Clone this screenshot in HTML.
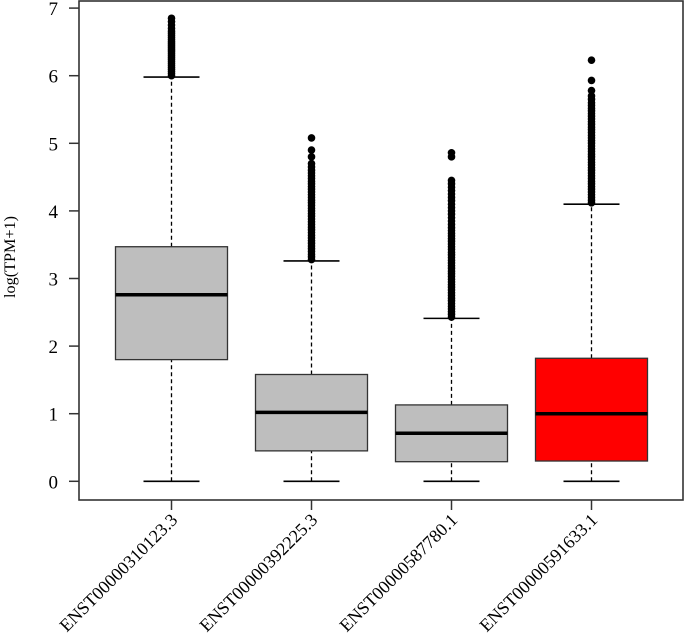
<!DOCTYPE html>
<html><head><meta charset="utf-8"><style>
html,body{margin:0;padding:0;background:#fff;}
svg{display:block;font-family:"Liberation Serif","Times New Roman",serif;}
</style></head><body>
<svg id="chart" width="685" height="639" viewBox="0 0 685 639"></svg>
<script>
const categories = ["ENST00000310123.3","ENST00000392225.3","ENST00000587780.1","ENST00000591633.1"];
const lowerWhisker = [0,0,0,0];
const q1 = [1.80,0.45,0.29,0.30];
const medians = [2.76,1.02,0.71,1.00];
const q3 = [3.47,1.58,1.13,1.82];
const upperWhisker = [5.98,3.26,2.41,4.10];
const boxColors = ["#bebebe","#bebebe","#bebebe","#ff0000"];
const outliers1 = [6.0,6.03,6.06,6.09,6.12,6.15,6.18,6.21,6.24,6.27,6.3,6.33,6.36,6.39,6.42,6.45,6.48,6.51,6.54,6.57,6.6,6.63,6.66,6.7,6.75,6.8,6.85];
const outliers2 = [3.28,3.32,3.36,3.4,3.44,3.48,3.52,3.56,3.6,3.64,3.68,3.72,3.76,3.8,3.84,3.88,3.92,3.96,4.0,4.04,4.08,4.12,4.16,4.2,4.24,4.28,4.32,4.36,4.4,4.44,4.48,4.52,4.56,4.6,4.65,4.7,4.8,4.9,5.08];
const outliers3 = [2.43,2.47,2.51,2.55,2.59,2.63,2.67,2.71,2.75,2.79,2.83,2.87,2.91,2.95,2.99,3.03,3.07,3.11,3.15,3.19,3.23,3.27,3.31,3.35,3.39,3.43,3.47,3.51,3.55,3.59,3.63,3.67,3.71,3.75,3.8,3.85,3.9,3.95,4.0,4.05,4.1,4.15,4.2,4.25,4.3,4.35,4.4,4.45,4.8,4.86];
const outliers4 = [4.12,4.16,4.2,4.24,4.28,4.32,4.36,4.4,4.44,4.48,4.52,4.56,4.6,4.64,4.68,4.72,4.76,4.8,4.84,4.88,4.92,4.96,5.0,5.04,5.08,5.12,5.16,5.2,5.24,5.28,5.32,5.36,5.4,5.44,5.48,5.52,5.56,5.6,5.65,5.7,5.78,5.93,6.23];
const outliers = [outliers1,outliers2,outliers3,outliers4];
const yTicks = [0,1,2,3,4,5,6,7];

const svg = document.getElementById('chart');
const NS = 'http://www.w3.org/2000/svg';
const L=79, R=683, T=1, B=500;
const y = v => 481.3 - v*67.6;
const x = i => 171.5 + i*140;
const BW = 112, CW = 56;
function mk(tag, attrs, parent){const e=document.createElementNS(NS,tag);for(const k in attrs)e.setAttribute(k,attrs[k]);(parent||svg).appendChild(e);return e;}

categories.forEach((c,i)=>{
  const g = mk('g',{});
  
  
  const cx=x(i);
  const w1 = mk('line',{x1:cx,x2:cx,y1:y(q3[i]),y2:y(upperWhisker[i]),stroke:'#000','stroke-width':1.3,'stroke-dasharray':'4,3'},g);
  
  
  const w2 = mk('line',{x1:cx,x2:cx,y1:y(lowerWhisker[i]),y2:y(q1[i]),stroke:'#000','stroke-width':1.3,'stroke-dasharray':'4,3'},g);
  
  
  [upperWhisker[i],lowerWhisker[i]].forEach(v=>{
    const cap = mk('line',{x1:cx-CW/2,x2:cx+CW/2,y1:y(v),y2:y(v),stroke:'#000','stroke-width':1.6},g);
    
    
  });
  const box = mk('rect',{x:cx-BW/2,y:y(q3[i]),width:BW,height:y(q1[i])-y(q3[i]),fill:boxColors[i],stroke:'#333','stroke-width':1.3},g);
  
  
  const med = mk('line',{x1:cx-BW/2,x2:cx+BW/2,y1:y(medians[i]),y2:y(medians[i]),stroke:'#000','stroke-width':3.5},g);
  
  
  outliers[i].forEach(v=>{
    const p = mk('circle',{cx:cx,cy:y(v),r:3.8,fill:'#000'},g);
    
    
  });
  const tk = mk('line',{x1:cx,x2:cx,y1:B,y2:B+10,stroke:'#333','stroke-width':1.5});
  
  
  const t = mk('text',{x:0,y:0,'font-size':18,'text-anchor':'end',textLength:158,lengthAdjust:'spacingAndGlyphs',transform:`translate(${cx+7},${B+21}) rotate(-45)`});
  t.textContent=c;
  
  
});

yTicks.forEach(v=>{
  const tk = mk('line',{x1:L-10,x2:L,y1:y(v),y2:y(v),stroke:'#333','stroke-width':1.5});
  
  
  const t = mk('text',{x:58,y:y(v)+7,'font-size':19,'text-anchor':'end'});
  t.textContent=v;
  
  
});

const frame = mk('rect',{x:L,y:T,width:R-L,height:B-T,fill:'none',stroke:'#333','stroke-width':1.6});



const yt = mk('text',{x:0,y:0,'font-size':16,'text-anchor':'middle',textLength:82,lengthAdjust:'spacingAndGlyphs',transform:'translate(15,257) rotate(-90)'});
yt.textContent='log(TPM+1)';


</script>
</body></html>
